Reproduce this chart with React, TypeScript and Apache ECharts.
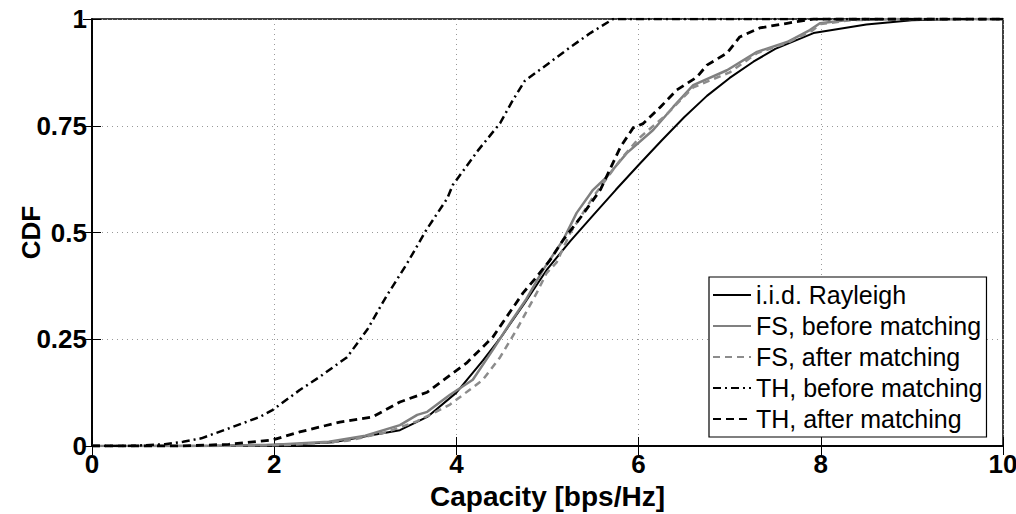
import React, { useEffect, useRef } from "react";
import * as echarts from "echarts";

const seriesNames = [
  "i.i.d. Rayleigh",
  "FS, before matching",
  "FS, after matching",
  "TH, before matching",
  "TH, after matching",
];

const xTicks = [0, 2, 4, 6, 8, 10];
const yTicks = [0, 0.25, 0.5, 0.75, 1];

const rayleighX = [0, 1.2, 1.8, 2.2, 2.65, 3.08, 3.38, 3.68, 4.0, 4.29, 4.5, 4.75, 5.0, 5.25, 5.5, 5.75, 6.0, 6.25, 6.5, 6.75, 7.0, 7.26, 7.5, 7.92, 8.5, 9.0, 9.5, 10];
const rayleighY = [0, 0, 0.002, 0.004, 0.009, 0.026, 0.037, 0.068, 0.125, 0.2, 0.258, 0.335, 0.415, 0.48, 0.54, 0.6, 0.658, 0.715, 0.77, 0.82, 0.862, 0.9, 0.93, 0.967, 0.987, 0.997, 1, 1];

const fsBeforeX = [0, 1.3, 2.0, 2.6, 3.0, 3.38, 3.57, 3.68, 3.93, 4.18, 4.4, 4.59, 4.77, 4.95, 5.17, 5.32, 5.5, 5.65, 5.87, 6.16, 6.38, 6.6, 6.97, 7.3, 7.63, 7.88, 7.99, 8.32, 8.8, 10];
const fsBeforeY = [0, 0, 0.003, 0.01, 0.024, 0.049, 0.073, 0.08, 0.12, 0.155, 0.225, 0.288, 0.345, 0.412, 0.482, 0.546, 0.6, 0.63, 0.686, 0.74, 0.794, 0.845, 0.88, 0.923, 0.946, 0.974, 0.99, 0.998, 1, 1];

const fsAfterX = [0, 1.5, 2.2, 2.8, 3.24, 3.57, 3.93, 4.29, 4.48, 4.67, 4.88, 4.99, 5.1, 5.25, 5.5, 5.8, 6.0, 6.3, 6.6, 7.0, 7.3, 7.63, 7.9, 8.0, 8.32, 8.8, 10];
const fsAfterY = [0, 0, 0.003, 0.012, 0.033, 0.058, 0.097, 0.155, 0.208, 0.276, 0.358, 0.405, 0.43, 0.499, 0.583, 0.67, 0.72, 0.775, 0.84, 0.875, 0.92, 0.944, 0.972, 0.988, 0.997, 1, 1];

const thBeforeX = [0, 0.4, 0.8, 1.0, 1.2, 1.55, 1.84, 1.98, 2.28, 2.5, 2.8, 3.02, 3.23, 3.46, 3.67, 3.9, 3.96, 4.24, 4.48, 4.62, 4.75, 5.03, 5.25, 5.47, 5.72, 10];
const thBeforeY = [0, 0, 0.004, 0.01, 0.018, 0.045, 0.068, 0.084, 0.131, 0.162, 0.208, 0.272, 0.35, 0.428, 0.506, 0.58, 0.611, 0.693, 0.756, 0.81, 0.855, 0.899, 0.934, 0.967, 1, 1];

const thAfterX = [0, 1.0, 1.5, 1.98, 2.28, 2.72, 3.08, 3.38, 3.68, 3.93, 4.11, 4.29, 4.4, 4.55, 4.73, 4.88, 5.03, 5.17, 5.38, 5.58, 5.69, 5.8, 5.94, 6.05, 6.24, 6.42, 6.64, 6.75, 6.97, 7.11, 7.33, 7.63, 7.92, 10];
const thAfterY = [0, 0, 0.004, 0.014, 0.033, 0.056, 0.068, 0.103, 0.126, 0.166, 0.194, 0.232, 0.255, 0.302, 0.358, 0.396, 0.436, 0.482, 0.54, 0.6, 0.65, 0.7, 0.745, 0.755, 0.794, 0.834, 0.864, 0.892, 0.92, 0.958, 0.979, 0.99, 1, 1];

const pairs = (xs: number[], ys: number[]) => xs.map((x, i) => [x, ys[i]]);

const FONT = "'Liberation Sans', Arial, sans-serif";

export default function App() {
  const ref = useRef<HTMLDivElement>(null);
  useEffect(() => {
    if (!ref.current) return;
    const chart = echarts.init(ref.current, null, { renderer: "svg" });
    const tickLabel = { fontFamily: FONT, fontWeight: "bold" as const, fontSize: 26, color: "#000" };
    const grid = { left: 92, top: 19, right: 13, bottom: 68 };
    const mkLine = (name: string, data: number[][], color: string, type: any, width: number) => ({
      name,
      type: "line",
      data,
      showSymbol: false,
      symbol: "none",
      xAxisIndex: 0,
      yAxisIndex: 0,
      lineStyle: { color, type, width },
      itemStyle: { color },
    });
    chart.setOption({
      animation: false,
      backgroundColor: "#fff",
      grid: {
        ...grid,
        outerBoundsMode: "none",
        containLabel: false,
        show: true,
        borderColor: "#000",
        borderWidth: 1.5,
        backgroundColor: "transparent",
      },
      legend: {
        left: 709,
        top: 277,
        orient: "vertical",
        data: seriesNames,
        backgroundColor: "#fff",
        borderColor: "#000",
        borderWidth: 1.2,
        borderRadius: 0,
        padding: [5, 4, 5, 3],
        itemGap: 5,
        itemWidth: 38,
        itemHeight: 14,
        itemStyle: { opacity: 0 },
        textStyle: { fontFamily: FONT, fontSize: 25, color: "#000", lineHeight: 26 },
      },
      xAxis: [
        {
          type: "value",
          min: 0,
          max: 10,
          interval: 2,
          position: "bottom",
          name: "Capacity [bps/Hz]",
          nameLocation: "middle",
          nameGap: 36,
          nameMoveOverlap: false,
          nameTextStyle: { ...tickLabel, fontSize: 28, lineHeight: 28 },
          axisLine: { show: true, lineStyle: { color: "#000", width: 1.5 } },
          axisTick: { show: true, inside: true, length: 9, lineStyle: { color: "#000", width: 1 } },
          axisLabel: { ...tickLabel, lineHeight: 24, margin: 6 },
          splitLine: { show: true, lineStyle: { color: "#999", type: [1, 4], width: 1 } },
        },
        {
          type: "value",
          min: 0,
          max: 10,
          interval: 2,
          position: "top",
          axisLine: { show: true, lineStyle: { color: "#000", width: 1.5 } },
          axisTick: { show: true, inside: true, length: 9, lineStyle: { color: "#000", width: 1 } },
          axisLabel: { show: false },
          splitLine: { show: false },
        },
      ],
      yAxis: [
        {
          type: "value",
          min: 0,
          max: 1,
          interval: 0.25,
          position: "left",
          name: "CDF",
          nameLocation: "middle",
          nameGap: 48,
          nameMoveOverlap: false,
          nameTextStyle: { ...tickLabel },
          axisLine: { show: true, lineStyle: { color: "#000", width: 1.5 } },
          axisTick: { show: true, inside: true, length: 9, lineStyle: { color: "#000", width: 1 } },
          axisLabel: {
            ...tickLabel,
            margin: 5,
            formatter: (v: number) => (yTicks.includes(v) ? String(v) : ""),
          },
          splitLine: { show: true, lineStyle: { color: "#999", type: [1, 4], width: 1 } },
        },
        {
          type: "value",
          min: 0,
          max: 1,
          interval: 0.25,
          position: "right",
          axisLine: { show: true, lineStyle: { color: "#000", width: 1.5 } },
          axisTick: { show: true, inside: true, length: 9, lineStyle: { color: "#000", width: 1 } },
          axisLabel: { show: false },
          splitLine: { show: false },
        },
      ],
      series: [
        mkLine(seriesNames[0], pairs(rayleighX, rayleighY), "#000", "solid", 2),
        mkLine(seriesNames[1], pairs(fsBeforeX, fsBeforeY), "#808080", "solid", 2.5),
        mkLine(seriesNames[2], pairs(fsAfterX, fsAfterY), "#8c8c8c", [7, 5], 2.5),
        mkLine(seriesNames[3], pairs(thBeforeX, thBeforeY), "#000", [8, 4, 2, 4], 2.5),
        mkLine(seriesNames[4], pairs(thAfterX, thAfterY), "#000", [8, 5], 2.8),
      ],
    });
    return () => chart.dispose();
  }, []);
  return (
    <div
      ref={ref}
      style={{ position: "fixed", left: 0, top: 0, width: 1016, height: 514, background: "#fff" }}
    />
  );
}
